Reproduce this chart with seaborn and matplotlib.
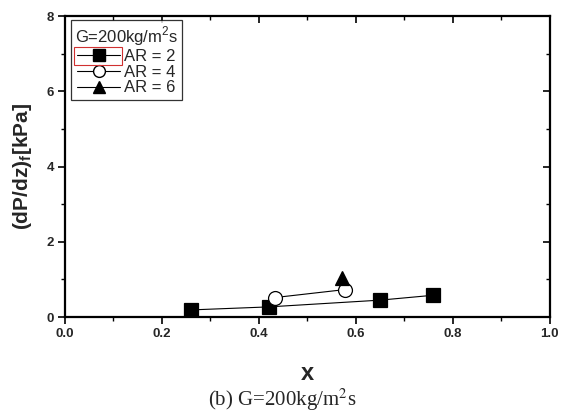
import matplotlib
matplotlib.use("Agg")
import matplotlib.pyplot as plt
from matplotlib.lines import Line2D, TICKDOWN, TICKLEFT
from matplotlib.patches import Rectangle
from matplotlib.ticker import MultipleLocator
import seaborn as sns
import pandas as pd

# Frictional pressure gradient vs. vapour quality at G = 200 kg/m^2 s
ar2_x = [0.26, 0.42, 0.65, 0.76]
ar2_y = [0.19, 0.27, 0.45, 0.58]
ar4_x = [0.434, 0.577]
ar4_y = [0.52, 0.73]
ar6_x = [0.572]
ar6_y = [1.03]

series_labels = ["AR = 2", "AR = 4", "AR = 6"]
legend_title = "G=200kg/m$^2$s"
x_ticks = [0.0, 0.2, 0.4, 0.6, 0.8, 1.0]
y_ticks = [0, 2, 4, 6, 8]

sns.set_theme(style="ticks")
plt.rcParams["font.family"] = ["Liberation Sans", "DejaVu Sans"]
plt.rcParams["mathtext.fontset"] = "custom"
plt.rcParams["mathtext.rm"] = "Liberation Sans"
plt.rcParams["mathtext.bf"] = "Liberation Sans:bold"

fig = plt.figure(figsize=(5.65, 4.15), dpi=100)
ax = fig.add_axes([0.115, 0.236, 0.858, 0.725])

frames = [
    pd.DataFrame({"x": ar2_x, "y": ar2_y}),
    pd.DataFrame({"x": ar4_x, "y": ar4_y}),
    pd.DataFrame({"x": ar6_x, "y": ar6_y}),
]
styles = [
    dict(marker="s", markerfacecolor="black", markersize=9.5),
    dict(marker="o", markerfacecolor="white", markersize=10),
    dict(marker="^", markerfacecolor="black", markersize=10.5),
]
for df, st in zip(frames, styles):
    sns.lineplot(data=df, x="x", y="y", ax=ax, color="black", linewidth=0.8,
                 markeredgecolor="black", markeredgewidth=0.9,
                 estimator=None, sort=False, legend=False, **st)

ax.set_xlim(0, 1.0)
ax.set_ylim(0, 8)
ax.set_xticks(x_ticks)
ax.set_yticks(y_ticks)
ax.xaxis.set_minor_locator(MultipleLocator(0.1))
ax.yaxis.set_minor_locator(MultipleLocator(1))
ax.set_xticklabels([f"{v:.1f}" for v in x_ticks], fontweight="bold", fontsize=9.5)
ax.set_yticklabels([str(v) for v in y_ticks], fontweight="bold", fontsize=9.5)

for side in ["left", "bottom", "top", "right"]:
    ax.spines[side].set_visible(True)
    ax.spines[side].set_linewidth(1.6)
    ax.spines[side].set_color("black")

ax.tick_params(which="major", direction="out", length=5, width=1.2, color="black",
               pad=3)
ax.tick_params(which="minor", direction="out", length=3, width=1.0, color="black")
# mirrored ticks on the top and right axes point inward
ax.tick_params(which="both", top=True, right=True, labeltop=False, labelright=False)
for t in ax.xaxis.get_major_ticks() + ax.xaxis.get_minor_ticks():
    t.tick2line.set_marker(TICKDOWN)
for t in ax.yaxis.get_major_ticks() + ax.yaxis.get_minor_ticks():
    t.tick2line.set_marker(TICKLEFT)

ax.set_xlabel("x", fontsize=17, fontweight="bold", labelpad=16)
ax.set_ylabel(r"(dP/dz)$_\mathbf{f}$[kPa]", fontsize=15, fontweight="bold",
              labelpad=9)

handles = [
    Line2D([], [], color="black", linewidth=0.8, marker="s", markersize=8,
           markerfacecolor="black", markeredgecolor="black"),
    Line2D([], [], color="black", linewidth=0.8, marker="o", markersize=8.5,
           markerfacecolor="white", markeredgecolor="black"),
    Line2D([], [], color="black", linewidth=0.8, marker="^", markersize=9,
           markerfacecolor="black", markeredgecolor="black"),
]
leg = ax.legend(handles, series_labels, title=legend_title, loc="upper left",
                bbox_to_anchor=(0.005, 0.998), frameon=True, fancybox=False,
                edgecolor="black", fontsize=12, title_fontsize=12,
                handlelength=2.6, handletextpad=0.25, borderpad=0.25,
                labelspacing=0.05, borderaxespad=0.2)
leg.get_frame().set_linewidth(0.9)

# red selection box around the first legend entry's symbol
fig.canvas.draw()
renderer = fig.canvas.get_renderer()
frame_bb = leg.get_frame().get_window_extent(renderer)
text_bb = leg.get_texts()[0].get_window_extent(renderer)
pad_px = leg.borderpad * 12 * 100 / 72
yc = 0.5 * (text_bb.y0 + text_bb.y1)
hx0 = frame_bb.x0 + pad_px * 0.9
hx1 = text_bb.x0 - 2
inv = fig.transFigure.inverted()
(x0, y0), (x1, y1) = inv.transform([(hx0, yc - 9), (hx1, yc + 9)])
fig.patches.append(Rectangle((x0, y0), x1 - x0, y1 - y0, transform=fig.transFigure,
                             fill=False, edgecolor="#d03030", linewidth=0.8))

fig.text(0.5, 0.005, r"(b) G=200kg/m$^2$s", ha="center", va="bottom",
         fontsize=15, family=["Liberation Serif", "DejaVu Serif"],
         math_fontfamily="stix")

fig.savefig("out.png", dpi=100)
